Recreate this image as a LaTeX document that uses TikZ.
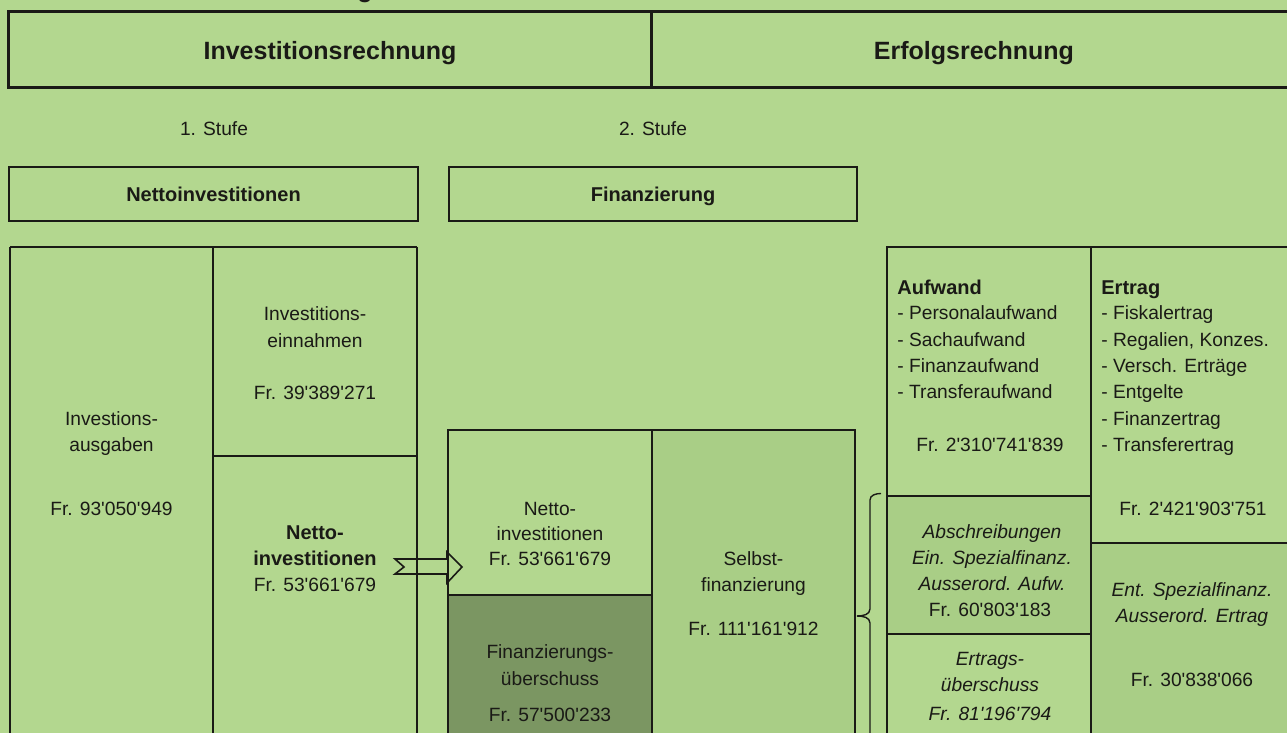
\documentclass[tikz,border=0pt]{standalone}
\usepackage{fontspec}
\setmainfont{Liberation Sans}
\newcommand\ap{\textquotesingle}
\definecolor{bgc}{RGB}{179,215,143}
\definecolor{midc}{RGB}{169,206,134}
\definecolor{darkc}{RGB}{123,150,98}
\definecolor{inkc}{RGB}{26,26,22}
\begin{document}
\begin{tikzpicture}[x=0.5pt,y=-0.5pt,
  t/.style={anchor=base,inner sep=0pt,text=inkc,font=\fontsize{9.6}{11}\selectfont},
  tb/.style={t,font=\fontsize{10}{12}\selectfont\bfseries},
  ti/.style={t,font=\fontsize{9.6}{11}\selectfont\itshape},
  tl/.style={t,anchor=base west},
  tbl/.style={tb,anchor=base west},
  hd/.style={t,font=\fontsize{12.5}{14}\selectfont\bfseries},
  thick line/.style={draw=inkc,line width=1.5pt},
  outer line/.style={draw=inkc,line width=1.1pt},
  thin line/.style={draw=inkc,line width=0.6pt}]
\useasboundingbox (0,0) rectangle (1287,733);
\clip (0,0) rectangle (1287,733);
\fill[bgc] (0,0) rectangle (1287,733);

% cut-off title fragment
\node[hd,anchor=base] (title) at (365,-2.5) {g};

% headings
\draw[thick line] (8,12) rectangle (1300,88);
\draw[thick line] (651,12) -- (651,88);
\node[hd] (hinv) at (330,59.5) {Investitionsrechnung};
\node[hd] (herf) at (974,59.5) {Erfolgsrechnung};

\node[t] (st1) at (214,136) {1. Stufe};
\node[t] (st2) at (653,136) {2. Stufe};

\draw[outer line,line width=1.3pt] (9,167) rectangle (418,221);
\draw[outer line,line width=1.3pt] (449,167) rectangle (857,221);
\node[tb] (bni) at (213.5,201.5) {Nettoinvestitionen};
\node[tb] (bfi) at (653,201.5) {Finanzierung};

% left block
\draw[outer line] (10,247) -- (417,247);
\draw[outer line] (10,247) -- (10,745);
\draw[outer line] (417,247) -- (417,745);
\draw[thin line] (213,247) -- (213,745);
\draw[outer line,line width=0.9pt] (213,456) -- (417,456);

\node[t] (ia1) at (111.5,425) {Investions-};
\node[t] (ia2) at (111.5,451) {ausgaben};
\node[t] (ia3) at (111.5,515) {Fr. 93\ap050\ap949};

\node[t] (ie1) at (315,321) {Investitions-};
\node[t] (ie2) at (315,347) {einnahmen};
\node[t] (ie3) at (315,399) {Fr. 39\ap389\ap271};

\node[tb] (ni1) at (315,539) {Netto-};
\node[tb] (ni2) at (315,565) {investitionen};
\node[t] (ni3) at (315,591) {Fr. 53\ap661\ap679};

% financing block
\fill[darkc] (448,595) rectangle (652,745);
\fill[midc] (652,430) rectangle (855,745);
\draw[outer line] (448,745) -- (448,430) -- (855,430) -- (855,745);
\draw[thin line] (652,430) -- (652,745);
\draw[outer line] (448,595) -- (652,595);

\node[t] (fn1) at (550,515) {Netto-};
\node[t] (fn2) at (550,540) {investitionen};
\node[t] (fn3) at (550,565) {Fr. 53\ap661\ap679};

\node[t] (fu1) at (550,658) {Finanzierungs-};
\node[t] (fu2) at (550,685) {überschuss};
\node[t] (fu3) at (550,721) {Fr. 57\ap500\ap233};

\node[t] (sf1) at (753.5,565) {Selbst-};
\node[t] (sf2) at (753.5,591) {finanzierung};
\node[t] (sf3) at (753.5,635) {Fr. 111\ap161\ap912};

% arrow
\draw[draw=inkc,line width=0.8pt,line join=miter]
  (395,559) -- (447,559) -- (447,552) -- (462,567) -- (447,583) -- (447,574)
  -- (395,574) -- (404,567) -- cycle;

% brace
\draw[draw=inkc,line width=0.7pt]
  (881,493.5) to[out=180,in=90] (870,500) -- (870,609) to[out=-90,in=0] (857,616);
\draw[draw=inkc,line width=0.7pt]
  (857,616) to[out=0,in=90] (870,623) -- (870,745);

% Erfolgsrechnung block
\fill[midc] (887,496) rectangle (1091,634);
\fill[midc] (1091,543) rectangle (1300,745);
\draw[outer line] (887,745) -- (887,247) -- (1300,247);
\draw[thin line] (1091,247) -- (1091,745);
\draw[outer line] (887,496) -- (1091,496);
\draw[outer line,line width=1.3pt] (887,634) -- (1091,634);
\draw[outer line] (1091,543) -- (1300,543);

\node[tbl] (auf0) at (897,294) {Aufwand};
\node[tl] (auf1) at (897,320) {- Personalaufwand};
\node[tl] (auf2) at (897,346) {- Sachaufwand};
\node[tl] (auf3) at (897,372) {- Finanzaufwand};
\node[tl] (auf4) at (897,398) {- Transferaufwand};
\node[t] (auf5) at (990,451) {Fr. 2\ap310\ap741\ap839};

\node[tbl] (ert0) at (1101,294) {Ertrag};
\node[tl] (ert1) at (1101,320) {- Fiskalertrag};
\node[tl] (ert2) at (1101,346) {- Regalien, Konzes.};
\node[tl] (ert3) at (1101,372.5) {- Versch. Erträge};
\node[tl] (ert4) at (1101,398.5) {- Entgelte};
\node[tl] (ert5) at (1101,425) {- Finanzertrag};
\node[tl] (ert6) at (1101,451) {- Transferertrag};
\node[t] (ert7) at (1193,515) {Fr. 2\ap421\ap903\ap751};

\node[ti] (ab1) at (992,538) {Abschreibungen};
\node[ti] (ab2) at (992,564) {Ein. Spezialfinanz.};
\node[ti] (ab3) at (992,590) {Ausserord. Aufw.};
\node[t] (ab4) at (990,616) {Fr. 60\ap803\ap183};

\node[ti] (eu1) at (990,665) {Ertrags-};
\node[ti] (eu2) at (990,691) {überschuss};
\node[ti] (eu3) at (990,720) {Fr. 81\ap196\ap794};

\node[ti] (es1) at (1192,596) {Ent. Spezialfinanz.};
\node[ti] (es2) at (1192,622) {Ausserord. Ertrag};
\node[t] (es3) at (1192,686) {Fr. 30\ap838\ap066};
\end{tikzpicture}
\end{document}
